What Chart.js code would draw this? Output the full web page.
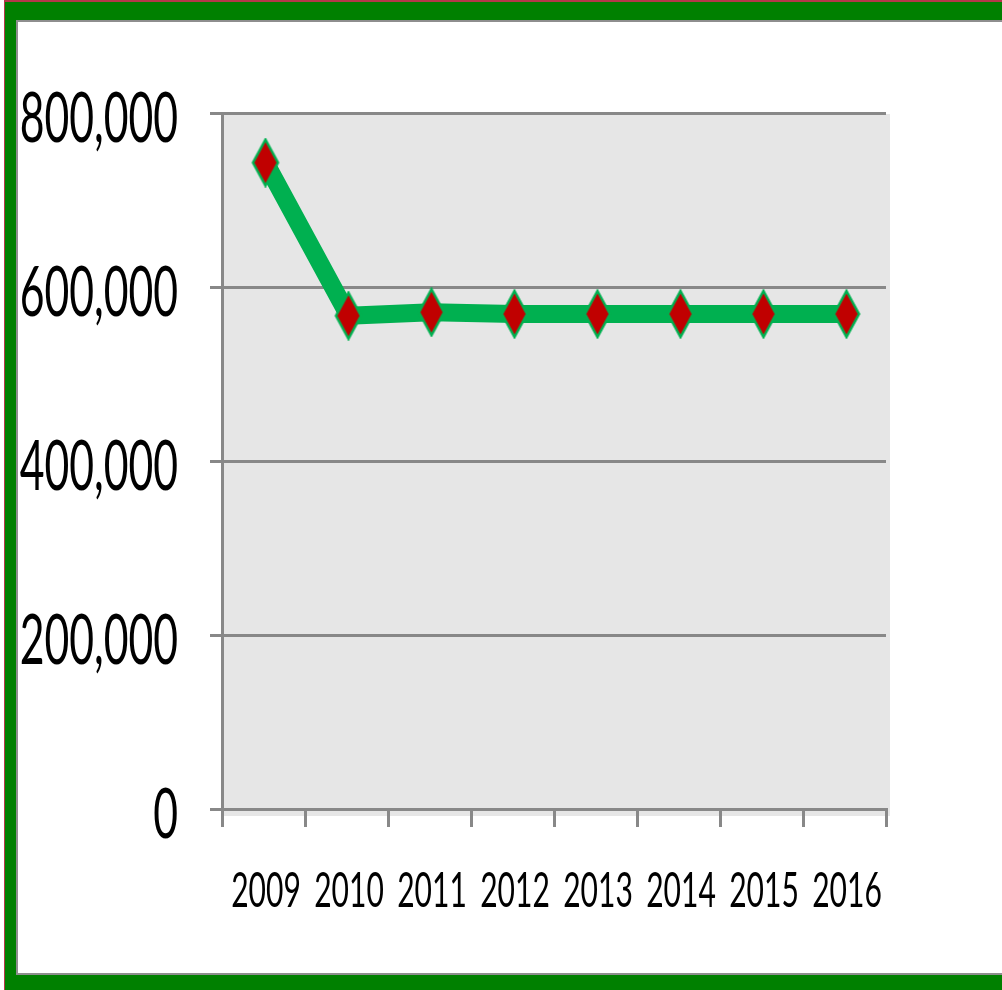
<!DOCTYPE html>
<html>
<head>
<meta charset="utf-8">
<script src="https://cdn.jsdelivr.net/npm/chart.js@4"></script>
<style>
  html, body { margin: 0; padding: 0; width: 1002px; height: 990px; overflow: hidden; background: #ffffff; }
  #outer { position: absolute; left: 4px; top: 0; width: 1010px; height: 1010px; background: #008000;
           border-left: 1px solid #b5384a; border-top: 2px solid #b5384a; box-sizing: border-box; }
  #inner { position: absolute; left: 16px; top: 20px; width: 990px; height: 955px; background: #ffffff;
           border: 2px solid #8e8e8e; box-sizing: border-box; }
  #c { position: absolute; left: 0; top: 0; }
</style>
</head>
<body>
<div id="outer"></div>
<div id="inner"></div>
<canvas id="c" width="1002" height="990"></canvas>
<script>
const categories = ['2009', '2010', '2011', '2012', '2013', '2014', '2015', '2016'];
const values = [743000, 567000, 571000, 569000, 569000, 569000, 569000, 569000];
const yTickValues = [0, 200000, 400000, 600000, 800000];
const yTickLabels = ['0', '200,000', '400,000', '600,000', '800,000'];

// tall diamond marker
function makeDiamond() {
  const cv = document.createElement('canvas');
  cv.width = 30; cv.height = 50;
  const g = cv.getContext('2d');
  g.beginPath();
  g.moveTo(15, 2); g.lineTo(27.5, 25); g.lineTo(15, 48); g.lineTo(2.5, 25); g.closePath();
  g.fillStyle = '#c00000';
  g.fill();
  g.lineWidth = 2.5;
  g.strokeStyle = '#00b050';
  g.lineJoin = 'miter';
  g.stroke();
  return cv;
}
const diamond = makeDiamond();

const bgPlugin = {
  id: 'bg',
  beforeDraw(chart) {
    const a = chart.chartArea, ctx = chart.ctx;
    ctx.save();
    ctx.fillStyle = '#e6e6e6';
    ctx.fillRect(a.left, a.top + 1, a.right - a.left + 4, a.bottom - a.top + 6);
    ctx.restore();
  },
  beforeDatasetsDraw(chart) {
    chart.ctx.save();
    chart.ctx.translate(2, 0);
  },
  afterDatasetsDraw(chart) {
    chart.ctx.restore();
  }
};

const FONT = 'Lato, "Open Sans", "Liberation Sans", sans-serif';
const labelPlugin = {
  id: 'labels',
  afterDraw(chart) {
    const ctx = chart.ctx;
    const ys = chart.scales.y, xs = chart.scales.x;
    ctx.save();
    ctx.fillStyle = '#000000';
    ctx.font = '40px ' + FONT;
    ctx.textBaseline = 'alphabetic';
    // y labels
    let m = ctx.measureText('800,000');
    const wY = m.actualBoundingBoxLeft + m.actualBoundingBoxRight;
    const d = ctx.measureText('000');
    const hD = d.actualBoundingBoxAscent + d.actualBoundingBoxDescent;
    const sxY = 156 / wY, syY = 50 / hD;
    ctx.textAlign = 'right';
    yTickValues.forEach((v, i) => {
      const py = ys.getPixelForValue(v) + 3.5;
      ctx.save();
      ctx.translate(178, py);
      ctx.scale(sxY, syY);
      ctx.fillText(yTickLabels[i], 0, hD / 2 - d.actualBoundingBoxDescent);
      ctx.restore();
    });
    // x labels
    m = ctx.measureText('2010');
    const wX = m.actualBoundingBoxLeft + m.actualBoundingBoxRight;
    const sxX = 68 / wX, syX = 35 / hD;
    ctx.textAlign = 'center';
    categories.forEach((c, i) => {
      const px = xs.getPixelForValue(i) + 2.5;
      ctx.save();
      ctx.translate(px, 889.5);
      ctx.scale(sxX, syX);
      ctx.fillText(c, 0, hD / 2 - d.actualBoundingBoxDescent);
      ctx.restore();
    });
    ctx.restore();
  }
};

new Chart(document.getElementById('c'), {
  type: 'line',
  data: {
    labels: categories,
    datasets: [{
      data: values,
      borderColor: '#00b050',
      borderWidth: 18,
      borderJoinStyle: 'round',
      tension: 0,
      pointStyle: diamond,
      pointRadius: 12,
      pointHoverRadius: 12,
      backgroundColor: '#c00000',
      clip: false
    }]
  },
  plugins: [bgPlugin, labelPlugin],
  options: {
    responsive: false,
    animation: false,
    devicePixelRatio: 1,
    layout: { padding: { left: 0, top: 113, right: 116, bottom: 0 } },
    plugins: { legend: { display: false }, tooltip: { enabled: false } },
    scales: {
      y: {
        min: 0, max: 800000,
        afterBuildTicks(s) { s.ticks = yTickValues.map(v => ({ value: v })); },
        afterFit(s) { s.width = 222; },
        ticks: { display: false },
        grid: { color: '#888888', lineWidth: 3, tickLength: 12, drawTicks: true },
        border: { display: true, color: '#888888', width: 3 }
      },
      x: {
        offset: true,
        afterFit(s) { s.height = 181; },
        ticks: { display: false },
        grid: { offset: true, drawOnChartArea: false, drawTicks: true, tickLength: 18, color: '#888888', lineWidth: 3 },
        border: { display: true, color: '#888888', width: 3 }
      }
    }
  }
});
</script>
</body>
</html>
